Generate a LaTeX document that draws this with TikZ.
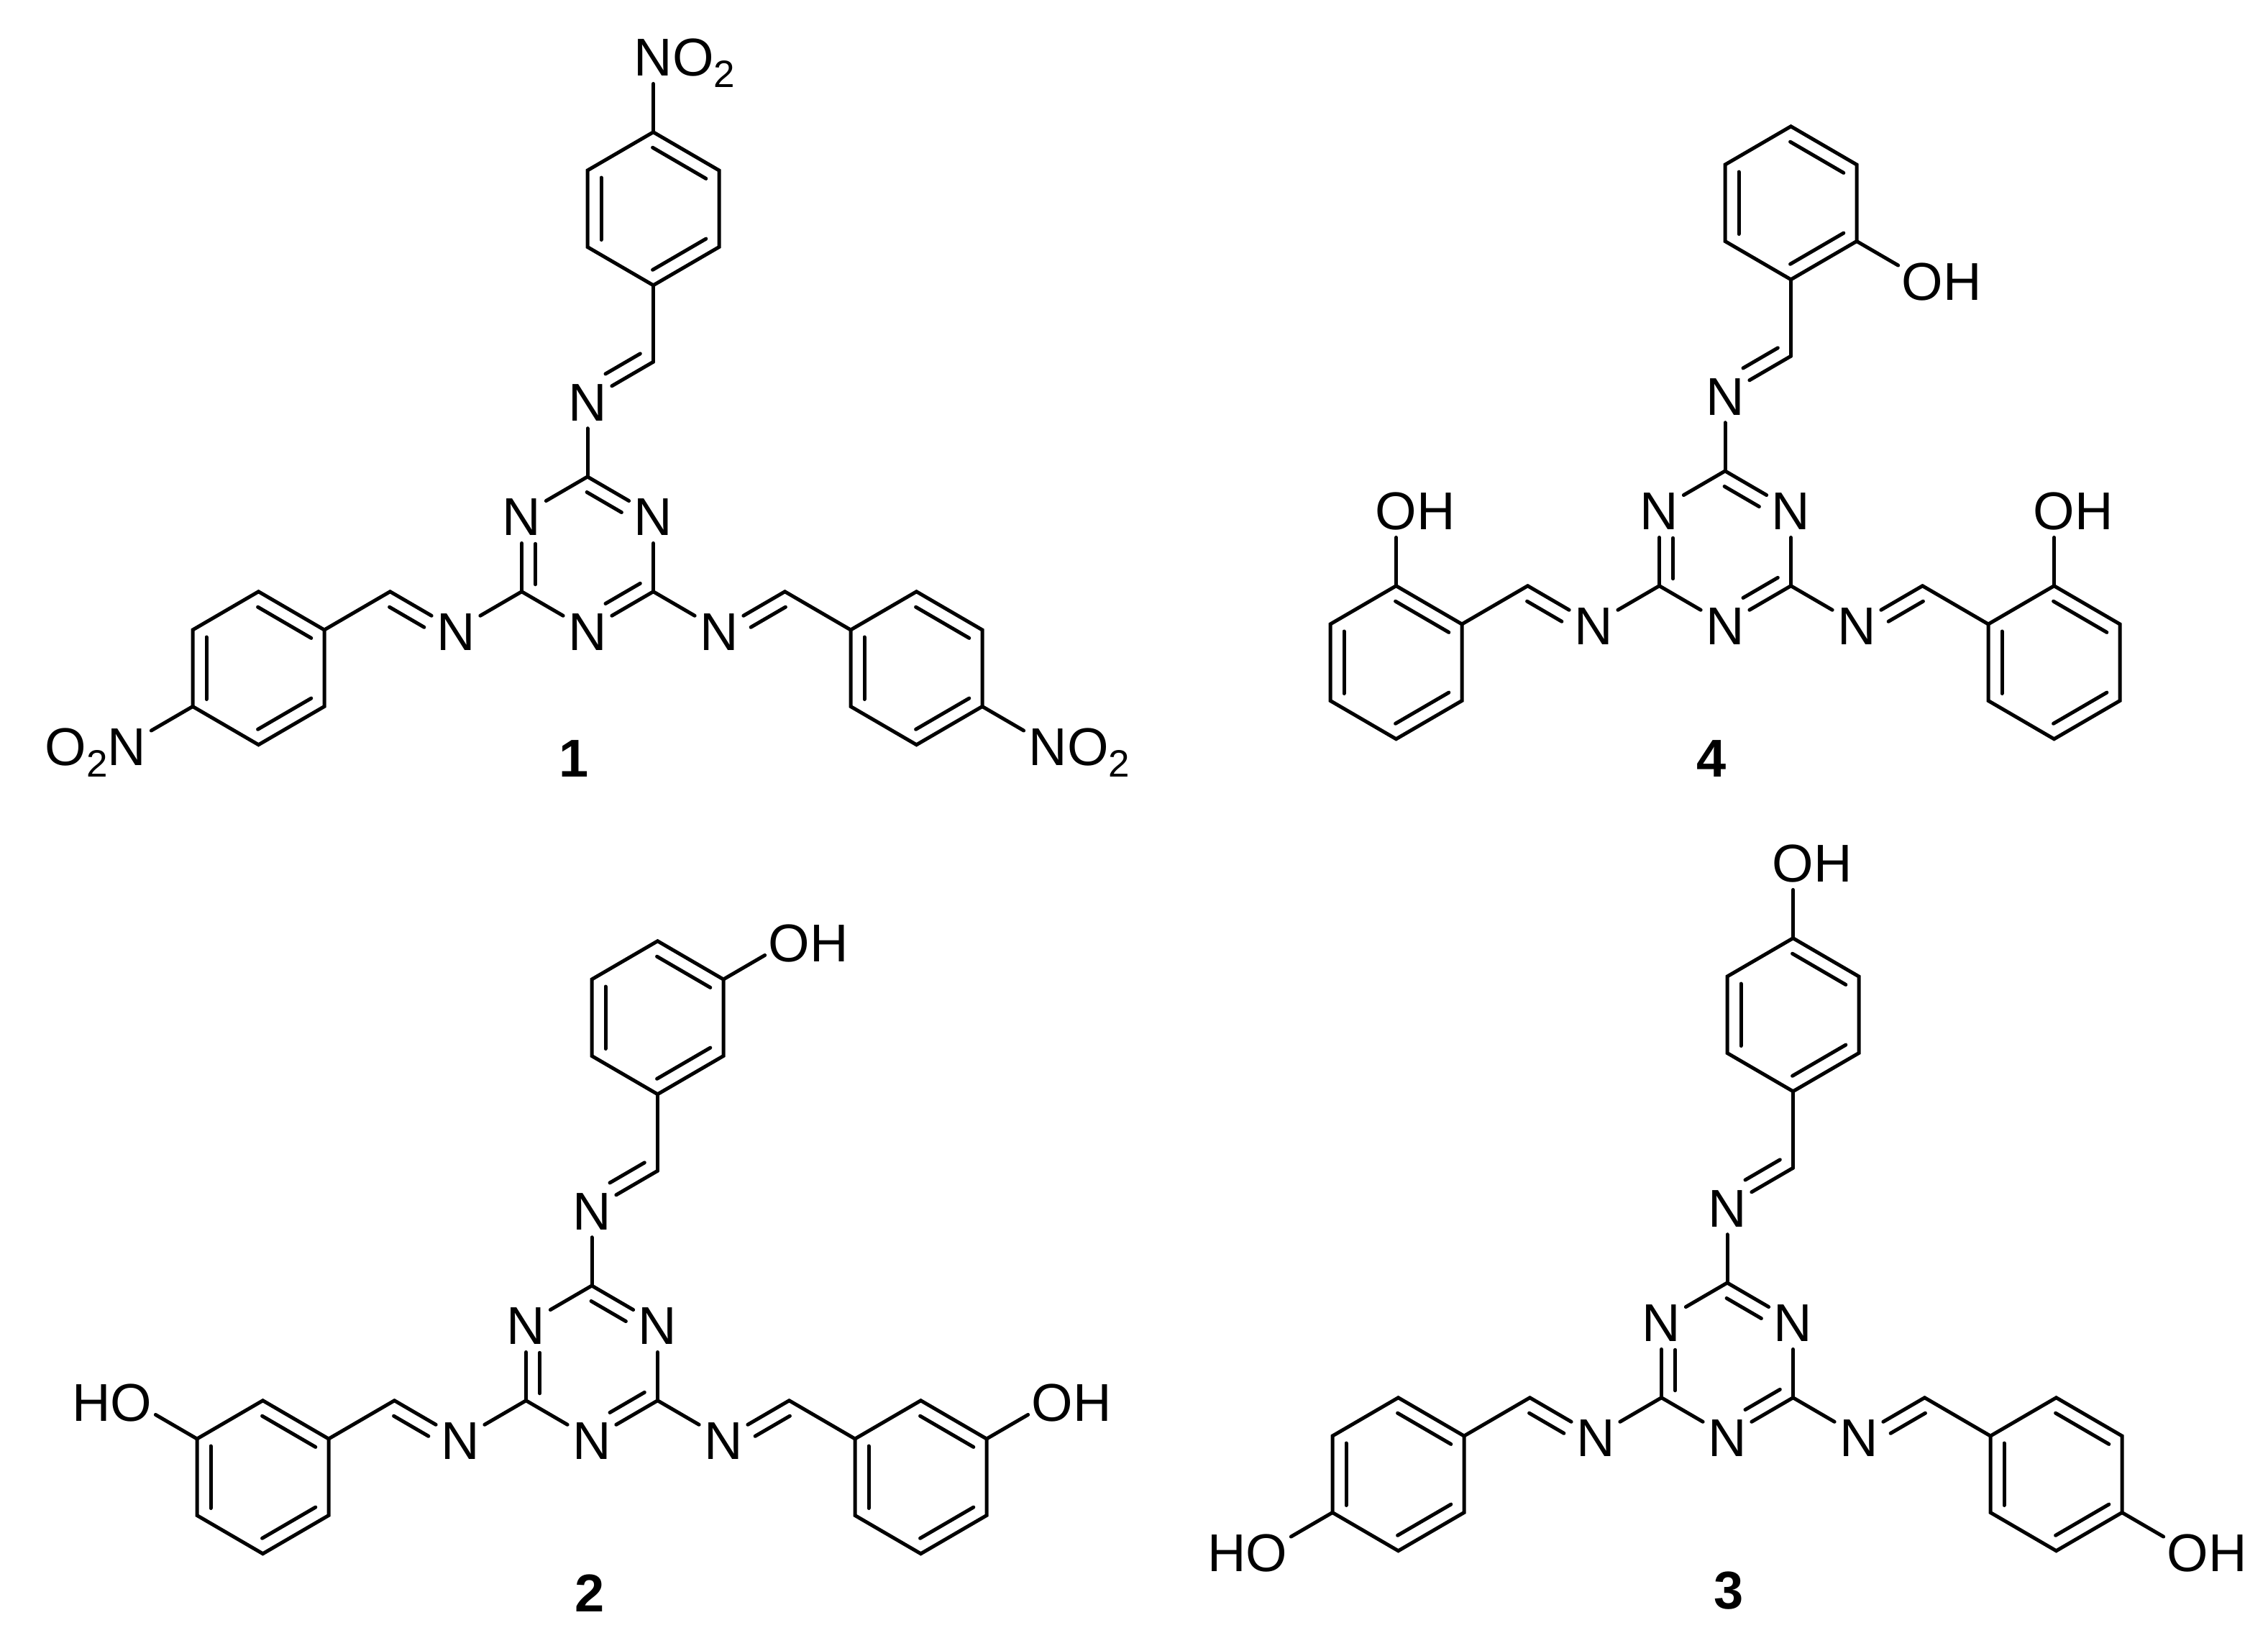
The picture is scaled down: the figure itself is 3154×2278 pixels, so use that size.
\documentclass[tikz,border=0pt]{standalone}
\usepackage{fontspec}
\setmainfont{Liberation Sans}
\usetikzlibrary{calc}
\tikzset{
  bond/.style={line width=5pt,line cap=round,line join=miter,miter limit=10,black},
  atom/.style={circle,minimum size=78pt,inner sep=0pt,font=\fontsize{74}{74}\selectfont},
  cpd/.style={inner sep=0pt,font=\fontsize{74}{74}\selectfont\bfseries}
}
\newcommand{\lab}[1]{\raisebox{-28.5pt}[0pt][0pt]{#1}}
\newcommand{\subtwo}{\raisebox{-16pt}{\fontsize{53}{53}\selectfont 2}}
% second line of a double bond: from, to, signed offset, start cut, end cut
\newcommand{\Dbond}[5]{\draw[bond] ($(#1)!#4!(#2)!#3!90:(#2)$) -- ($(#2)!#5!(#1)!#3!-90:(#1)$);}
% benzene ring: name, centre x, centre y (local)
\newcommand{\benzring}[3]{%
  \coordinate (#11) at (#2,#3-106.5);
  \coordinate (#12) at (#2+91.5,#3-53.25);
  \coordinate (#13) at (#2+91.5,#3+53.25);
  \coordinate (#14) at (#2,#3+106.5);
  \coordinate (#15) at (#2-91.5,#3+53.25);
  \coordinate (#16) at (#2-91.5,#3-53.25);
  \draw[bond] (#11)--(#12)--(#13)--(#14)--(#15)--(#16)--cycle;
  \Dbond{#11}{#12}{-19pt}{10pt}{10pt}
  \Dbond{#13}{#14}{-19pt}{10pt}{10pt}
  \Dbond{#15}{#16}{-19pt}{10pt}{10pt}
}
% triazine core with three imine arms and rings: name, x and y of the top ring carbon
\newcommand{\core}[3]{%
\begin{scope}[shift={(#2,#3)}]
  \coordinate (#1Ct) at (0,0);
  \node[atom] (#1Nr) at (91.5,53.25) {\lab{N}};
  \coordinate (#1Cr) at (91.5,159.75);
  \node[atom] (#1Nb) at (0,213) {\lab{N}};
  \coordinate (#1Cl) at (-91.5,159.75);
  \node[atom] (#1Nl) at (-91.5,53.25) {\lab{N}};
  \draw[bond] (#1Ct)--(#1Nr); \draw[bond] (#1Nr)--(#1Cr); \draw[bond] (#1Cr)--(#1Nb);
  \draw[bond] (#1Nb)--(#1Cl); \draw[bond] (#1Cl)--(#1Nl); \draw[bond] (#1Nl)--(#1Ct);
  \Dbond{#1Ct}{#1Nr}{-19pt}{10pt}{40pt}
  \Dbond{#1Cr}{#1Nb}{-19pt}{10pt}{40pt}
  \Dbond{#1Cl}{#1Nl}{-19pt}{10pt}{40pt}
  % top arm
  \node[atom] (#1Ntt) at (0,-106.5) {\lab{N}};
  \coordinate (#1Cxt) at (91.5,-159.75);
  \benzring{#1T}{91.5}{-372.75}
  \draw[bond] (#1Ct)--(#1Ntt); \draw[bond] (#1Cxt)--(#1Ntt); \draw[bond] (#1Cxt)--(#1T4);
  \Dbond{#1Cxt}{#1Ntt}{-19pt}{10pt}{40pt}
  % left arm
  \node[atom] (#1Ntl) at (-183,213) {\lab{N}};
  \coordinate (#1Cxl) at (-274.5,159.75);
  \benzring{#1L}{-457.5}{266.25}
  \draw[bond] (#1Cl)--(#1Ntl); \draw[bond] (#1Cxl)--(#1Ntl); \draw[bond] (#1Cxl)--(#1L2);
  \Dbond{#1Cxl}{#1Ntl}{-19pt}{10pt}{40pt}
  % right arm
  \node[atom] (#1Ntr) at (183,213) {\lab{N}};
  \coordinate (#1Cxr) at (274.5,159.75);
  \benzring{#1R}{457.5}{266.25}
  \draw[bond] (#1Cr)--(#1Ntr); \draw[bond] (#1Cxr)--(#1Ntr); \draw[bond] (#1Cxr)--(#1R6);
  \Dbond{#1Cxr}{#1Ntr}{19pt}{10pt}{40pt}
\end{scope}}
\begin{document}
\begin{tikzpicture}[x=1pt,y=-1pt]
\useasboundingbox (0,0) rectangle (3154,2278);
% compound 1
\core{A}{817}{663}
\node[atom] (Ao1) at ($(AT1)+(0,-106.5)$) {\lab{N\rlap{O\subtwo}}};
\node[atom] (Ao2) at ($(AL5)+(-91.5,53.25)$) {\lab{\llap{O\subtwo}N}};
\node[atom] (Ao3) at ($(AR3)+(91.5,53.25)$) {\lab{N\rlap{O\subtwo}}};
\draw[bond] (AT1)--(Ao1); \draw[bond] (AL5)--(Ao2); \draw[bond] (AR3)--(Ao3);
\node[cpd] (Anum) at (798,1055.5) {1};
% compound 4
\core{B}{2399}{655}
\node[atom] (Bo1) at ($(BT3)+(91.5,53.25)$) {\lab{O\rlap{H}}};
\node[atom] (Bo2) at ($(BL1)+(0,-106.5)$) {\lab{O\rlap{H}}};
\node[atom] (Bo3) at ($(BR1)+(0,-106.5)$) {\lab{O\rlap{H}}};
\draw[bond] (BT3)--(Bo1); \draw[bond] (BL1)--(Bo2); \draw[bond] (BR1)--(Bo3);
\node[cpd] (Bnum) at (2380.5,1055) {4};
% compound 2
\core{C}{823}{1788}
\node[atom] (Co1) at ($(CT2)+(91.5,-53.25)$) {\lab{O\rlap{H}}};
\node[atom] (Co2) at ($(CL6)+(-91.5,-53.25)$) {\lab{\llap{H}O}};
\node[atom] (Co3) at ($(CR2)+(91.5,-53.25)$) {\lab{O\rlap{H}}};
\draw[bond] (CT2)--(Co1); \draw[bond] (CL6)--(Co2); \draw[bond] (CR2)--(Co3);
\node[cpd] (Cnum) at (820,2216) {2};
% compound 3
\core{D}{2402}{1784}
\node[atom] (Do1) at ($(DT1)+(0,-106.5)$) {\lab{O\rlap{H}}};
\node[atom] (Do2) at ($(DL5)+(-91.5,53.25)$) {\lab{\llap{H}O}};
\node[atom] (Do3) at ($(DR3)+(91.5,53.25)$) {\lab{O\rlap{H}}};
\draw[bond] (DT1)--(Do1); \draw[bond] (DL5)--(Do2); \draw[bond] (DR3)--(Do3);
\node[cpd] (Dnum) at (2404,2212) {3};
\end{tikzpicture}
\end{document}
